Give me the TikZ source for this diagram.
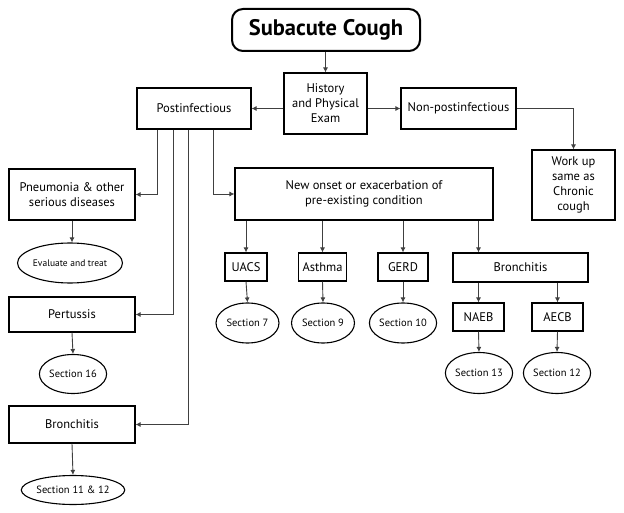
\documentclass[tikz,border=0pt]{standalone}
\usepackage{fontspec}
\setmainfont{PT Sans}
\usetikzlibrary{shapes.geometric,arrows.meta}
\begin{document}
\begin{tikzpicture}[x=1pt,y=-1pt,
  box/.style={draw=black,line width=1.1pt,rectangle,inner sep=0pt,align=center,font=\fontsize{12.5}{15}\selectfont},
  oval/.style={draw=black,line width=1.1pt,ellipse,inner sep=0pt,align=center,font=\fontsize{10.5}{12}\selectfont},
  arr/.style={draw=black!75,line width=0.9pt,-{Latex[length=5pt,width=5pt]}}]
\useasboundingbox (0,0) rectangle (624,513);
% top
\node[draw=black,line width=2pt,rounded corners=11pt,minimum width=188pt,minimum height=42pt,inner sep=0pt,font=\fontsize{22.5}{26}\selectfont\bfseries] (title) at (326,30) {Subacute Cough};
\node[box,minimum width=83pt,minimum height=61pt] (hist) at (325.5,103.5) {History\\and Physical\\Exam};
\node[box,minimum width=114pt,minimum height=41pt] (post) at (194,108.5) {Postinfectious};
\node[box,minimum width=115pt,minimum height=41pt] (nonpost) at (458.5,108.5) {Non-postinfectious};
\node[box,minimum width=83pt,minimum height=70pt] (workup) at (573.5,185) {Work up\\same as\\Chronic\\cough};
% left column
\node[box,minimum width=126pt,minimum height=51pt] (pneu) at (72,194.5) {Pneumonia \& other\\serious diseases};
\node[oval,minimum width=88pt,minimum height=40pt,font=\fontsize{9.5}{11}\selectfont] (evalt) at (70,263) {Evaluate and treat};
\node[box,minimum width=126pt,minimum height=35pt] (pert) at (72,314.5) {Pertussis};
\node[oval,minimum width=63pt,minimum height=39pt] (sec16) at (73,374) {Section 16};
\node[box,minimum width=126pt,minimum height=37pt] (bronL) at (72,424.5) {Bronchitis};
\node[oval,minimum width=83pt,minimum height=29pt] (sec1112) at (73,490) {Section 11 \& 12};
% middle
\node[box,minimum width=258pt,minimum height=52pt] (newon) at (364,194) {New onset or exacerbation of\\pre-existing condition};
\node[box,minimum width=42pt,minimum height=28pt] (uacs) at (246,267) {UACS};
\node[box,minimum width=48pt,minimum height=28pt] (asth) at (322.5,267) {Asthma};
\node[box,minimum width=50pt,minimum height=28pt] (gerd) at (403,267) {GERD};
\node[oval,minimum width=63pt,minimum height=40pt] (sec7) at (247.5,323) {Section 7};
\node[oval,minimum width=63pt,minimum height=40pt] (sec9) at (323,323) {Section 9};
\node[oval,minimum width=63pt,minimum height=40pt] (sec10) at (403,323) {Section 10};
\node[box,minimum width=135pt,minimum height=29pt] (bronR) at (520.5,267.5) {Bronchitis};
\node[box,minimum width=51pt,minimum height=28pt] (naeb) at (478.5,317) {NAEB};
\node[box,minimum width=51pt,minimum height=28pt] (aecb) at (557.5,317) {AECB};
\node[oval,minimum width=63pt,minimum height=41pt] (sec13) at (479,373) {Section 13};
\node[oval,minimum width=63pt,minimum height=41pt] (sec12) at (557,373) {Section 12};
% connectors
\draw[arr] (title.south -| hist.north) -- (hist.north);
\draw[arr] (hist.west |- post.east) -- (post.east);
\draw[arr] (hist.east |- nonpost.west) -- (nonpost.west);
\draw[arr] (nonpost.east) -| (workup.north);
\draw[arr] ([xshift=-37pt]post.south) |- (pneu.east);
\draw[arr] ([xshift=-21pt]post.south) |- (pert.east);
\draw[arr] ([xshift=-6pt]post.south) |- (bronL.east);
\draw[arr] ([xshift=19pt]post.south) |- (newon.west);
\draw[arr] (pneu.south) -- (pneu.south |- evalt.north);
\draw[arr] (pert.south) -- (sec16.north);
\draw[arr] (bronL.south) -- (sec1112.north);
\draw[arr] (uacs.north |- newon.south) -- (uacs.north);
\draw[arr] (asth.north |- newon.south) -- (asth.north);
\draw[arr] (gerd.north |- newon.south) -- (gerd.north);
\draw[arr] (naeb.north |- newon.south) -- (naeb.north |- bronR.north);
\draw[arr] (uacs.south) -- (sec7.north);
\draw[arr] (asth.south) -- (sec9.north);
\draw[arr] (gerd.south) -- (sec10.north);
\draw[arr] (naeb.north |- bronR.south) -- (naeb.north);
\draw[arr] (aecb.north |- bronR.south) -- (aecb.north);
\draw[arr] (naeb.south) -- (sec13.north);
\draw[arr] (aecb.south) -- (sec12.north);
\end{tikzpicture}
\end{document}
